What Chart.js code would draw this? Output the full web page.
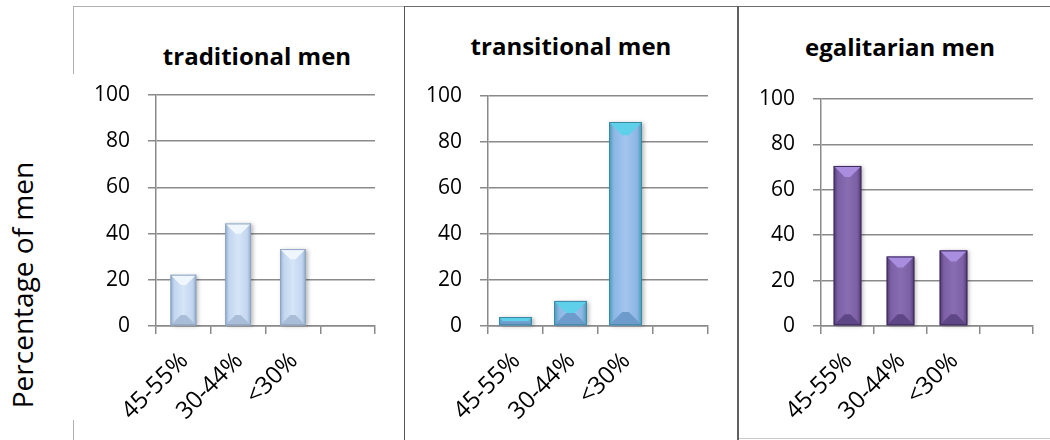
<!DOCTYPE html>
<html>
<head>
<meta charset="utf-8">
<script src="https://cdn.jsdelivr.net/npm/chart.js@4.4.1/dist/chart.umd.min.js"></script>
<style>
  html, body { margin: 0; padding: 0; background: #fff; }
  #page { position: relative; width: 1050px; height: 440px; overflow: hidden; font-family: "Open Sans", sans-serif; }
  .rule { position: absolute; }
  canvas { position: absolute; top: 0; }
  .ptitle {
    position: absolute; width: 300px; height: 30px; line-height: 30px;
    text-align: center; font-size: 24px; font-weight: bold; color: #000; white-space: nowrap;
  }
  #ytitle {
    position: absolute; left: -128px; top: 265px; width: 300px; height: 40px;
    line-height: 40px; text-align: center; font-size: 28px; color: #000;
    transform: rotate(-90deg); white-space: nowrap;
  }
</style>
</head>
<body>
<div id="page">
  <!-- panel frames -->
  <div class="rule" style="left:73px;top:6px;width:332px;height:1px;background:#b0b0b0"></div>
  <div class="rule" style="left:73px;top:6px;width:1px;height:68px;background:#b0b0b0"></div>
  <div class="rule" style="left:73px;top:420px;width:1px;height:20px;background:#b0b0b0"></div>
  <div class="rule" style="left:404px;top:6px;width:646px;height:1px;background:#6e6e6e"></div>
  <div class="rule" style="left:404px;top:6px;width:1px;height:434px;background:#555"></div>
  <div class="rule" style="left:737px;top:6px;width:2px;height:434px;background:#606060"></div>
  <div class="rule" style="left:739px;top:438px;width:311px;height:1px;background:#c8c8c8"></div>

  <div id="ytitle">Percentage of men</div>
  <div class="ptitle" id="t1" style="left:107px;top:41px"></div>
  <div class="ptitle" id="t2" style="left:421px;top:31px"></div>
  <div class="ptitle" id="t3" style="left:750px;top:32px"></div>

  <canvas id="c1" width="329" height="440" style="left:75px"></canvas>
  <canvas id="c2" width="331" height="440" style="left:406px"></canvas>
  <canvas id="c3" width="310" height="440" style="left:740px"></canvas>
</div>
<script>
// Share of men in each group, by wife's share of household income
const categories = ['45-55%', '30-44%', '<30%', ''];
const traditionalMen = [22.2, 44.4, 33.3];
const transitionalMen = [3.9, 10.9, 88.7];
const egalitarianMen = [70.5, 30.6, 33.3];
const yTicks = [0, 20, 40, 60, 80, 100];
const panelTitles = ['traditional men', 'transitional men', 'egalitarian men'];

['t1', 't2', 't3'].forEach((id, i) => { document.getElementById(id).textContent = panelTitles[i]; });

const GRID = '#8a8a8a';
const FONT = '"Open Sans", sans-serif';

// Bevelled bar faces painted over each bar element, using the element geometry
const bevelBars = {
  id: 'bevelBars',
  afterDatasetsDraw(chart, _args, o) {
    const ctx = chart.ctx;
    chart.getDatasetMeta(0).data.forEach(bar => {
      const p = bar.getProps(['x', 'y', 'base', 'width'], true);
      const l = p.x - p.width / 2, r = p.x + p.width / 2;
      const t = Math.min(p.y, p.base), b = Math.max(p.y, p.base);
      const w = r - l, h = b - t;
      if (h <= 0) return;
      const d = Math.min(w * 0.4, h / 2);
      ctx.save();
      ctx.shadowColor = 'rgba(0,0,0,0.28)';
      ctx.shadowBlur = 4;
      ctx.shadowOffsetX = 2;
      ctx.shadowOffsetY = 1;
      const g = ctx.createLinearGradient(l, 0, r, 0);
      g.addColorStop(0, o.edge);
      g.addColorStop(0.15, o.body);
      g.addColorStop(0.5, o.light);
      g.addColorStop(0.85, o.body);
      g.addColorStop(1, o.edge);
      ctx.fillStyle = g;
      ctx.fillRect(l, t, w, h);
      ctx.shadowColor = 'transparent';
      ctx.fillStyle = o.top;
      ctx.beginPath();
      ctx.moveTo(l, t); ctx.lineTo(r, t); ctx.lineTo(r - d, t + d); ctx.lineTo(l + d, t + d);
      ctx.closePath(); ctx.fill();
      ctx.fillStyle = o.bottom;
      ctx.beginPath();
      ctx.moveTo(l, b); ctx.lineTo(r, b); ctx.lineTo(r - d, b - d); ctx.lineTo(l + d, b - d);
      ctx.closePath(); ctx.fill();
      ctx.strokeStyle = o.outline;
      ctx.lineWidth = 1;
      ctx.strokeRect(l + 0.5, t + 0.5, w - 1, h - 1);
      ctx.restore();
    });
  }
};

function panel(id, values, look) {
  return new Chart(document.getElementById(id), {
    type: 'bar',
    data: {
      labels: categories,
      datasets: [{
        data: values,
        backgroundColor: look.colors.body,
        borderWidth: 0,
        barPercentage: look.barPct,
        categoryPercentage: 1
      }]
    },
    options: {
      responsive: false,
      devicePixelRatio: 1,
      animation: false,
      events: [],
      layout: { padding: { left: 0, right: look.padRight, top: look.padTop, bottom: 0 } },
      plugins: {
        legend: { display: false },
        tooltip: { enabled: false },
        title: { display: false },
        bevelBars: look.colors
      },
      scales: {
        x: {
          type: 'category',
          offset: true,
          grid: { display: true, offset: true, drawOnChartArea: false, drawTicks: true, tickLength: 8, color: GRID, lineWidth: 1.5 },
          border: { display: true, color: GRID, width: 1.5 },
          ticks: {
            autoSkip: false, minRotation: 45, maxRotation: 45, padding: 13, labelOffset: 1,
            color: '#000', font: { family: FONT, size: 24 }
          },
          afterFit(s) { s.height = 114; s.paddingLeft = 0; s.paddingRight = 0; }
        },
        y: {
          min: 0, max: 100,
          afterBuildTicks(s) { s.ticks = yTicks.map(v => ({ value: v })); },
          grid: { color: GRID, lineWidth: 1.5, tickLength: 8, drawTicks: true },
          border: { display: true, color: GRID, width: 1.5 },
          ticks: { padding: 18, color: '#000', font: { family: FONT, size: 21 } },
          afterFit(s) { s.width = look.axisWidth; s.paddingTop = 0; s.paddingBottom = 0; }
        }
      }
    },
    plugins: [bevelBars]
  });
}

panel('c1', traditionalMen, {
  barPct: 0.47, padRight: 29, padTop: 95, axisWidth: 81,
  colors: { body: '#c2d6f0', light: '#d6e5f7', edge: '#95acca', top: '#f0f6fd', bottom: '#a9bdd8', outline: '#8ea5c3' }
});
panel('c2', transitionalMen, {
  barPct: 0.6, padRight: 29, padTop: 96, axisWidth: 82,
  colors: { body: '#8db6e5', light: '#a2c5ee', edge: '#3f9bb6', top: '#5fd0ea', bottom: '#6d9bcc', outline: '#3a8aa6' }
});
panel('c3', egalitarianMen, {
  barPct: 0.52, padRight: 17, padTop: 99, axisWidth: 81,
  colors: { body: '#7c5fa5', light: '#896db2', edge: '#4e3970', top: '#a98ee0', bottom: '#5f4686', outline: '#3f2d5a' }
});
</script>
</body>
</html>
